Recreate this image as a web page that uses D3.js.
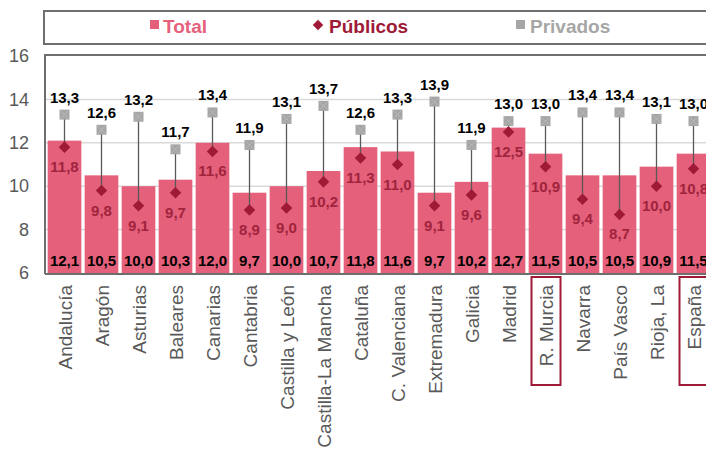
<!DOCTYPE html>
<html><head><meta charset="utf-8">
<script src="https://cdn.jsdelivr.net/npm/d3@7/dist/d3.min.js"></script>
<style>body{margin:0;background:#fff}svg{display:block;font-family:"Liberation Sans",Arial,sans-serif}</style>
</head><body><svg id="c" width="706" height="453"></svg>
<script>
const categories=["Andalucía","Aragón","Asturias","Baleares","Canarias","Cantabria","Castilla y León","Castilla-La Mancha","Cataluña","C. Valenciana","Extremadura","Galicia","Madrid","R. Murcia","Navarra","País Vasco","Rioja, La","España"];
const total=[12.1,10.5,10.0,10.3,12.0,9.7,10.0,10.7,11.8,11.6,9.7,10.2,12.7,11.5,10.5,10.5,10.9,11.5];
const publicos=[11.8,9.8,9.1,9.7,11.6,8.9,9.0,10.2,11.3,11.0,9.1,9.6,12.5,10.9,9.4,8.7,10.0,10.8];
const privados=[13.3,12.6,13.2,11.7,13.4,11.9,13.1,13.7,12.6,13.3,13.9,11.9,13.0,13.0,13.4,13.4,13.1,13.0];
const yTicks=[6,8,10,12,14,16];
const highlighted=["R. Murcia","España"];

const fmt=v=>v.toFixed(1).replace(".",",");
const svg=d3.select("#c");
const L=46,R=712,T=56,B=273;
const x=d3.scaleBand().domain(categories).range([L,R]).paddingInner(0.09).paddingOuter(0.045);
const y=d3.scaleLinear().domain([6,16]).range([B,T]);
const cBar="#e5607a",cPub="#9e1a36",cPubTxt="#a0243d",cPriv="#a6a6a6";

// legend box
svg.append("rect").attr("x",44).attr("y",11).attr("width",700).attr("height",33).attr("fill","#fff").attr("stroke","#6e6e6e").attr("stroke-width",2);
const lg=svg.append("g");
lg.append("rect").attr("x",150).attr("y",20).attr("width",9).attr("height",9).attr("fill",cBar);
lg.append("text").attr("x",163).attr("y",33).attr("fill",cBar).attr("font-weight","bold").attr("font-size",19).text("Total");
lg.append("path").attr("d",d3.symbol(d3.symbolDiamond2,70)()).attr("transform","translate(318,25)").attr("fill",cPub);
lg.append("text").attr("x",329).attr("y",33).attr("fill",cPub).attr("font-weight","bold").attr("font-size",19).text("Públicos");
lg.append("rect").attr("x",516).attr("y",20).attr("width",9).attr("height",9).attr("fill",cPriv);
lg.append("text").attr("x",530).attr("y",33).attr("fill",cPriv).attr("font-weight","bold").attr("font-size",19).text("Privados");

// gridlines
svg.append("g").selectAll("line").data(yTicks.filter(t=>t>6&&t<16)).join("line")
 .attr("x1",L).attr("x2",706).attr("y1",d=>y(d)).attr("y2",d=>y(d)).attr("stroke","#d9d9d9").attr("stroke-width",1.5);

// y axis labels
const ya=svg.append("g").attr("transform",`translate(${L},0)`).call(d3.axisLeft(y).tickValues(yTicks).tickSize(0).tickPadding(17).tickFormat(d3.format("d")));
ya.select(".domain").remove();
ya.selectAll("text").attr("font-size",18).attr("fill","#595959").attr("font-family","Liberation Sans, Arial, sans-serif");

// bars
svg.append("g").selectAll("rect").data(categories).join("rect")
 .attr("x",d=>x(d)).attr("width",x.bandwidth()).attr("y",(d,i)=>y(total[i])).attr("height",(d,i)=>B-y(total[i])).attr("fill",cBar);

// plot border (left, top)
svg.append("path").attr("d",`M${706},${T-1}H${L-1}V${B+1}`).attr("fill","none").attr("stroke","#6e6e6e").attr("stroke-width",2);
// x axis line
svg.append("line").attr("x1",L-1).attr("x2",706).attr("y1",B+1).attr("y2",B+1).attr("stroke","#6e6e6e").attr("stroke-width",2);

const cx=d=>x(d)+x.bandwidth()/2;
// connectors
svg.append("g").selectAll("line").data(categories).join("line")
 .attr("x1",cx).attr("x2",cx).attr("y1",(d,i)=>y(privados[i])).attr("y2",(d,i)=>y(publicos[i])).attr("stroke","#595959").attr("stroke-width",1.3);
// privados squares
const sq=svg.append("g").selectAll("g").data(categories).join("g").attr("transform",(d,i)=>`translate(${cx(d)},${y(privados[i])})`);
sq.append("rect").attr("x",-5).attr("y",-5).attr("width",10).attr("height",10).attr("fill",cPriv);
sq.append("path").attr("d","M-4,-4L4,4M4,-4L-4,4").attr("stroke","#bdbdbd").attr("stroke-width",0.8);
// publicos diamonds
svg.append("g").selectAll("path").data(categories).join("path")
 .attr("d",d3.symbol(d3.symbolDiamond2,85)()).attr("transform",(d,i)=>`translate(${cx(d)},${y(publicos[i])})`).attr("fill",cPub);

// labels
const lab=svg.append("g").attr("font-weight","bold").attr("font-size",15).attr("text-anchor","middle");
lab.selectAll(".pv").data(categories).join("text").attr("class","pv").attr("x",cx).attr("y",(d,i)=>y(privados[i])-12).attr("fill","#000").text((d,i)=>fmt(privados[i]));
lab.selectAll(".pb").data(categories).join("text").attr("class","pb").attr("x",cx).attr("y",(d,i)=>y(publicos[i])+25).attr("fill",cPubTxt).text((d,i)=>fmt(publicos[i]));
lab.selectAll(".tt").data(categories).join("text").attr("class","tt").attr("x",cx).attr("y",B-7).attr("fill","#000").text((d,i)=>fmt(total[i]));

// x labels
const xl=svg.append("g").selectAll("g").data(categories).join("g").attr("transform",d=>`translate(${cx(d)+7},285) rotate(-90)`);
xl.append("text").attr("text-anchor","end").attr("font-size",19).attr("fill","#595959").text(d=>d);
// highlight boxes
svg.append("g").selectAll("rect").data(highlighted).join("rect")
 .attr("x",d=>cx(d)-14).attr("y",277).attr("width",29).attr("height",108).attr("fill","none").attr("stroke","#9e1a36").attr("stroke-width",2);
</script></body></html>
